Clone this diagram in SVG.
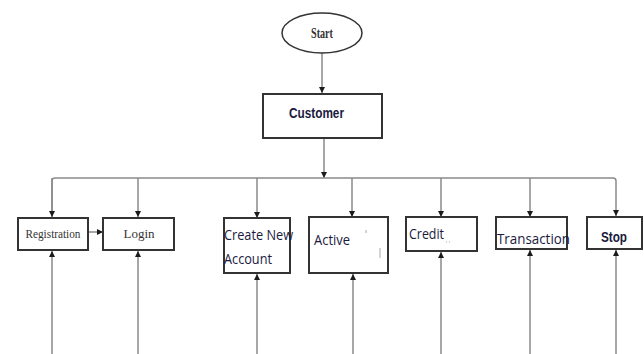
<svg xmlns="http://www.w3.org/2000/svg" width="644" height="354" viewBox="0 0 644 354">
  <style>
    .box { fill: #ffffff; stroke: #333333; stroke-width: 2; }
    .line { fill: none; stroke: #8a8a8a; stroke-width: 1.5; }
    .serif { font-family: "Liberation Serif", serif; fill: #333333; }
    .sans { font-family: "Open Sans", "Liberation Sans", sans-serif; fill: #1a1a40; }
    .bold { font-family: "Liberation Sans", sans-serif; font-weight: bold; fill: #1a1a40; }
    .mark { stroke: #aaaaaa; stroke-width: 1; }
  </style>
  <defs>
    <marker id="arrow" viewBox="0 0 10 10" refX="10" refY="5" markerWidth="6" markerHeight="6" orient="auto" markerUnits="userSpaceOnUse">
      <path d="M0,0 L10,5 L0,10 Z" fill="#1a1a1a"/>
    </marker>
  </defs>

  <rect width="644" height="354" fill="#ffffff"/>

  <g id="connectors">
    <!-- Start to Customer -->
    <line class="line" x1="322" y1="53" x2="322" y2="93" marker-end="url(#arrow)"/>
    <!-- Customer down to the distribution bus -->
    <line class="line" x1="324" y1="138" x2="324" y2="178" marker-end="url(#arrow)"/>
    <!-- distribution bus -->
    <path class="line" d="M52,217 V181 Q52,178 55,178 H613 Q616,178 616,181 V216" marker-end="url(#arrow)"/>
    <line class="line" x1="52" y1="178" x2="52" y2="217" marker-end="url(#arrow)"/>
    <line class="line" x1="138" y1="178" x2="138" y2="217" marker-end="url(#arrow)"/>
    <line class="line" x1="257" y1="178" x2="257" y2="218" marker-end="url(#arrow)"/>
    <line class="line" x1="352" y1="178" x2="352" y2="217" marker-end="url(#arrow)"/>
    <line class="line" x1="441" y1="178" x2="441" y2="217" marker-end="url(#arrow)"/>
    <line class="line" x1="530" y1="178" x2="530" y2="217" marker-end="url(#arrow)"/>
    <!-- Registration to Login -->
    <line class="line" x1="89" y1="232" x2="103" y2="232" marker-end="url(#arrow)"/>
    <!-- returns from below -->
    <line class="line" x1="52" y1="354" x2="52" y2="251" marker-end="url(#arrow)"/>
    <line class="line" x1="138" y1="354" x2="138" y2="251" marker-end="url(#arrow)"/>
    <line class="line" x1="257" y1="354" x2="257" y2="274" marker-end="url(#arrow)"/>
    <line class="line" x1="353" y1="354" x2="353" y2="274" marker-end="url(#arrow)"/>
    <line class="line" x1="441" y1="354" x2="441" y2="252" marker-end="url(#arrow)"/>
    <line class="line" x1="530" y1="354" x2="530" y2="250" marker-end="url(#arrow)"/>
    <line class="line" x1="616" y1="354" x2="616" y2="250" marker-end="url(#arrow)"/>
  </g>

  <g id="start">
    <ellipse cx="322" cy="33" rx="40" ry="20" fill="#ffffff" stroke="#333333" stroke-width="1.5"/>
    <text class="serif" x="322" y="38" font-size="14" font-weight="bold" text-anchor="middle" textLength="22" lengthAdjust="spacingAndGlyphs">Start</text>
  </g>

  <g id="customer">
    <rect class="box" x="263" y="94" width="119" height="44"/>
    <text class="bold" x="289" y="118" font-size="15" textLength="55" lengthAdjust="spacingAndGlyphs">Customer</text>
  </g>

  <g id="registration">
    <rect class="box" x="18" y="218" width="70" height="32"/>
    <text class="serif" x="53" y="238" font-size="13" text-anchor="middle" textLength="55" lengthAdjust="spacingAndGlyphs">Registration</text>
  </g>

  <g id="login">
    <rect class="box" x="103" y="218" width="71" height="32"/>
    <text class="serif" x="139" y="238" font-size="13" text-anchor="middle">Login</text>
  </g>

  <g id="create-new-account">
    <rect class="box" x="224" y="218" width="66" height="55"/>
    <text class="sans" x="224" y="240" font-size="14" textLength="69" lengthAdjust="spacingAndGlyphs">Create New</text>
    <text class="sans" x="224" y="264" font-size="14" textLength="48" lengthAdjust="spacingAndGlyphs">Account</text>
  </g>

  <g id="active">
    <rect class="box" x="309" y="217" width="79" height="56"/>
    <text class="sans" x="314" y="245" font-size="14" textLength="36" lengthAdjust="spacingAndGlyphs">Active</text>
    <line class="mark" x1="366" y1="230" x2="366" y2="233"/>
    <line class="mark" x1="380" y1="248" x2="380" y2="258"/>
  </g>

  <g id="credit">
    <rect class="box" x="406" y="217" width="71" height="34"/>
    <text class="sans" x="409" y="239" font-size="14" textLength="35" lengthAdjust="spacingAndGlyphs">Credit</text>
    <line class="mark" x1="446" y1="242" x2="452" y2="242" stroke-dasharray="1 2"/>
  </g>

  <g id="transaction">
    <rect class="box" x="496" y="217" width="71" height="32"/>
    <text class="sans" x="497" y="244" font-size="14" textLength="73" lengthAdjust="spacingAndGlyphs">Transaction</text>
  </g>

  <g id="stop">
    <rect class="box" x="587" y="217" width="55" height="32"/>
    <text class="bold" x="601" y="242" font-size="15" textLength="26" lengthAdjust="spacingAndGlyphs">Stop</text>
  </g>
</svg>
